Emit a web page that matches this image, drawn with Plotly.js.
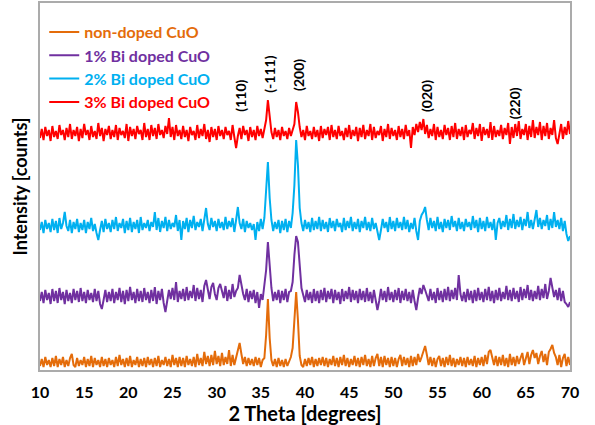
<!DOCTYPE html>
<html>
<head>
<meta charset="utf-8">
<script src="https://cdn.plot.ly/plotly-3.0.1.min.js"></script>
<style>html,body{margin:0;padding:0;background:#fff;}#chart{width:595px;height:425px;}</style>
</head>
<body>
<div id="chart"></div>
<script>
// 2-theta sampling grid (10 to 70 degrees, 0.2 degree step)
const twoTheta = Array.from({length: 301}, (_, i) => Math.round((10 + 0.2 * i) * 10) / 10);

const seriesNames = ["non-doped CuO", "1% Bi doped CuO", "2% Bi doped CuO", "3% Bi doped CuO"];

// Intensities (arbitrary counts, stacked as in the figure)
const nonDoped = [
4,11,3,13,5,10,3,12,4,14,3,11,5,13,3,10,4,12,16,5,
3,12,4,10,5,13,3,11,4,14,3,12,5,10,3,13,4,11,3,12,
5,10,3,13,4,15,5,11,3,12,4,14,3,10,5,13,3,11,4,12,
3,13,5,11,3,12,4,14,3,10,5,13,4,11,3,15,5,12,3,13,
4,12,3,14,5,11,4,13,3,16,5,12,4,18,6,14,4,15,5,19,
6,14,4,17,5,13,6,20,4,15,5,12,17,27,16,6,13,4,12,5,
11,4,13,5,12,3,10,12,35,71,32,10,4,11,3,12,4,10,3,11,
4,9,13,22,48,78,50,14,5,3,11,4,12,5,13,3,11,4,12,5,
13,4,12,3,11,5,14,4,12,3,13,5,15,4,12,3,11,5,14,4,
12,3,13,5,15,4,11,3,14,4,12,16,4,13,3,14,5,12,3,13,
4,12,3,11,15,4,13,5,12,3,14,4,13,5,16,8,13,18,24,15,
5,13,4,12,3,11,14,4,12,3,13,5,15,4,12,3,11,5,13,4,
12,3,13,5,11,4,14,3,12,5,13,4,15,6,18,20,12,5,14,4,
13,5,15,4,12,3,16,5,13,4,14,6,12,17,5,13,18,6,15,20,
12,17,6,14,19,8,16,5,18,21,25,17,13,5,15,3,12,16,4,13,
5];

const bi1 = [
69,78,67,80,70,77,66,81,69,79,67,82,70,78,66,80,69,77,67,81,
70,79,68,82,69,78,67,80,70,77,68,81,69,79,66,61,70,80,68,78,
69,81,67,78,70,82,68,79,66,80,69,83,70,78,67,81,69,79,68,82,
70,78,67,80,69,83,66,79,70,81,67,58,69,80,71,82,70,88,68,79,
71,81,69,83,70,79,72,85,69,82,71,80,68,84,90,79,71,83,87,76,
70,82,86,79,72,84,69,80,71,86,73,79,82,95,84,76,70,81,68,79,
71,80,67,78,62,76,70,84,100,128,104,82,69,78,70,80,67,79,70,81,
68,78,79,88,115,134,128,100,82,75,68,80,70,78,67,81,69,79,67,80,
70,82,68,79,71,81,67,80,70,78,66,81,69,79,71,83,68,80,70,79,
67,81,70,79,68,82,69,78,67,80,70,60,69,81,70,79,68,83,70,78,
68,80,70,82,67,79,70,81,69,78,67,80,69,60,72,82,76,85,80,74,
69,81,70,78,67,82,70,79,68,81,70,83,69,80,71,82,70,95,76,69,
78,68,81,70,79,67,80,69,82,70,78,68,81,70,83,69,79,67,80,70,
82,69,78,71,84,70,80,69,82,71,79,68,83,70,81,72,85,70,80,69,
79,71,84,70,81,72,86,71,79,92,84,73,80,70,82,69,79,68,66,63,
68];

const bi2 = [
140,148,137,150,141,147,138,151,140,149,137,152,141,147,158,144,139,150,137,148,
141,151,138,147,140,150,137,148,141,152,139,146,137,130,140,149,138,151,141,147,
138,150,141,153,139,147,142,151,137,149,140,152,138,148,141,150,137,153,140,147,
142,150,139,148,143,158,140,152,138,149,142,153,139,150,141,147,143,155,139,150,
130,149,141,152,138,150,142,154,140,148,143,151,139,153,162,146,140,152,143,149,
139,151,142,148,140,153,141,149,143,152,138,150,163,147,141,151,138,149,142,147,
140,146,130,148,139,151,141,152,176,208,172,150,139,148,141,150,137,149,140,151,
138,149,142,157,185,230,205,162,147,139,150,141,148,138,152,140,149,141,153,139,
150,141,148,138,152,142,149,139,151,143,147,138,152,140,149,142,153,139,148,141,
151,138,149,142,153,140,148,139,152,141,147,137,130,140,151,142,148,138,153,141,
149,139,152,142,148,140,153,141,150,138,147,141,152,139,130,149,155,158,163,150,
140,152,142,149,139,153,141,148,138,151,142,150,140,154,143,149,139,152,141,148,
139,151,143,148,140,154,142,150,138,152,141,149,139,153,142,148,140,151,130,147,
152,141,149,143,155,140,151,142,156,141,150,143,153,140,151,144,158,142,150,141,
149,160,143,152,141,150,144,155,140,151,142,158,143,150,141,152,139,149,136,129,
134];

const bi3 = [
232,241,230,243,234,240,229,244,233,239,231,245,235,240,230,242,233,246,231,240,
234,243,229,241,232,246,235,240,230,244,233,239,231,247,234,242,229,241,235,244,
231,240,233,245,230,242,235,239,232,246,229,243,234,241,231,244,236,240,230,247,
233,241,230,245,234,242,231,246,235,240,232,244,236,252,233,243,230,245,234,240,
231,244,233,240,229,243,235,239,230,245,232,241,234,246,231,240,228,243,233,241,
230,244,234,240,231,243,235,239,230,245,233,222,234,242,231,244,235,240,229,243,
233,240,230,244,234,241,232,243,250,270,250,238,231,242,233,240,230,243,234,239,
231,242,234,240,246,268,258,243,233,240,230,244,234,239,231,243,233,240,229,244,
232,241,235,243,230,245,233,240,231,244,234,239,230,242,233,245,231,240,234,243,
229,242,233,245,231,240,234,246,230,243,232,239,235,244,229,241,233,246,231,242,
234,240,230,244,233,241,231,245,234,240,222,243,235,246,238,248,240,251,236,245,
232,241,234,246,230,243,233,240,231,245,235,242,230,244,233,247,231,241,234,243,
230,245,233,240,236,247,231,242,234,246,229,243,235,241,232,248,230,244,233,240,
234,245,231,242,235,247,226,243,232,246,234,249,231,241,235,246,230,244,233,250,
232,243,235,248,230,244,234,247,231,242,235,250,232,226,236,246,231,243,235,249,
236];

// Reflection labels
const peakLabels = ["(110)", "(-111)", "(200)", "(020)", "(220)"];
const peakLabelX = [32.6, 35.9, 39.2, 53.7, 63.7];
const peakLabelY = [274, 296, 295, 274, 267];

const xTicks = [10, 15, 20, 25, 30, 35, 40, 45, 50, 55, 60, 65, 70];

const colors = ["#E46C0A", "#7030A0", "#00B0F0", "#FF0000"];
const seriesData = [nonDoped, bi1, bi2, bi3];
const FONT = "Lato, 'Open Sans', 'DejaVu Sans', sans-serif";

const traces = seriesData.map((d, k) => ({
  type: "scatter",
  mode: "lines",
  x: twoTheta,
  y: d,
  name: seriesNames[k],
  line: {color: colors[k], width: 2},
  hoverinfo: "skip"
}));

const annotations = peakLabels.map((t, k) => ({
  x: peakLabelX[k], y: peakLabelY[k], xref: "x", yref: "y",
  text: "<b>" + t + "</b>", textangle: -90, showarrow: false,
  font: {family: FONT, size: 14, color: "#000"}
}));

const layout = {
  width: 595, height: 425,
  margin: {l: 40, r: 25, t: 3, b: 55},
  paper_bgcolor: "#fff", plot_bgcolor: "#fff",
  showlegend: true,
  legend: {
    x: 0.008, y: 0.967, xanchor: "left", yanchor: "top",
    bgcolor: "rgba(0,0,0,0)", borderwidth: 0,
    font: {family: FONT, size: 16, weight: "bold"},
    itemwidth: 30, tracegroupgap: 0, traceorder: "normal"
  },
  xaxis: {
    range: [10, 70], tickvals: xTicks, ticktext: xTicks.map(v => "<b>" + v + "</b>"),
    ticks: "", showgrid: false, zeroline: false,
    showline: true, mirror: true, linecolor: "#ababab", linewidth: 2,
    layer: "below traces", ticklabelstandoff: 7,
    tickfont: {family: FONT, size: 16, color: "#000"},
    title: {text: "<b>2 Theta [degrees]</b>", font: {family: FONT, size: 20, color: "#000"}, standoff: 2},
    automargin: false
  },
  yaxis: {
    range: [0, 367], showticklabels: false, ticks: "", showgrid: false, zeroline: false,
    showline: true, mirror: true, linecolor: "#ababab", linewidth: 2,
    layer: "below traces",
    title: {text: "<b>Intensity [counts]</b>", font: {family: FONT, size: 18, color: "#000"}, standoff: 6},
    automargin: false
  },
  annotations: annotations
};

const gd = document.getElementById("chart");

function tuneLegend() {
  // colour legend texts like their series and tighten the row spacing
  const items = gd.querySelectorAll("g.legend g.traces");
  items.forEach((g, k) => {
    const t = g.querySelector("text.legendtext");
    if (t) { t.style.fill = colors[k]; t.style.fontWeight = "bold"; }
    const tr = g.getAttribute("transform") || "";
    const m = /translate\(\s*([-\d.e]+)[\s,]+([-\d.e]+)\s*\)/.exec(tr);
    if (m) {
      if (g.__baseY === undefined) {
        g.__baseY = parseFloat(m[2]);
      }
    }
  });
  if (items.length) {
    const first = items[0].__baseY;
    items.forEach((g, k) => {
      const tr = g.getAttribute("transform") || "";
      const m = /translate\(\s*([-\d.e]+)[\s,]+([-\d.e]+)\s*\)/.exec(tr);
      const x = m ? parseFloat(m[1]) : 0;
      g.setAttribute("transform", "translate(" + x + "," + (first + k * 23.3) + ")");
    });
  }
}

Plotly.newPlot(gd, traces, layout, {displayModeBar: false, staticPlot: true}).then(() => {
  tuneLegend();
  setTimeout(tuneLegend, 0);
  setTimeout(tuneLegend, 200);
});
</script>
</body>
</html>
